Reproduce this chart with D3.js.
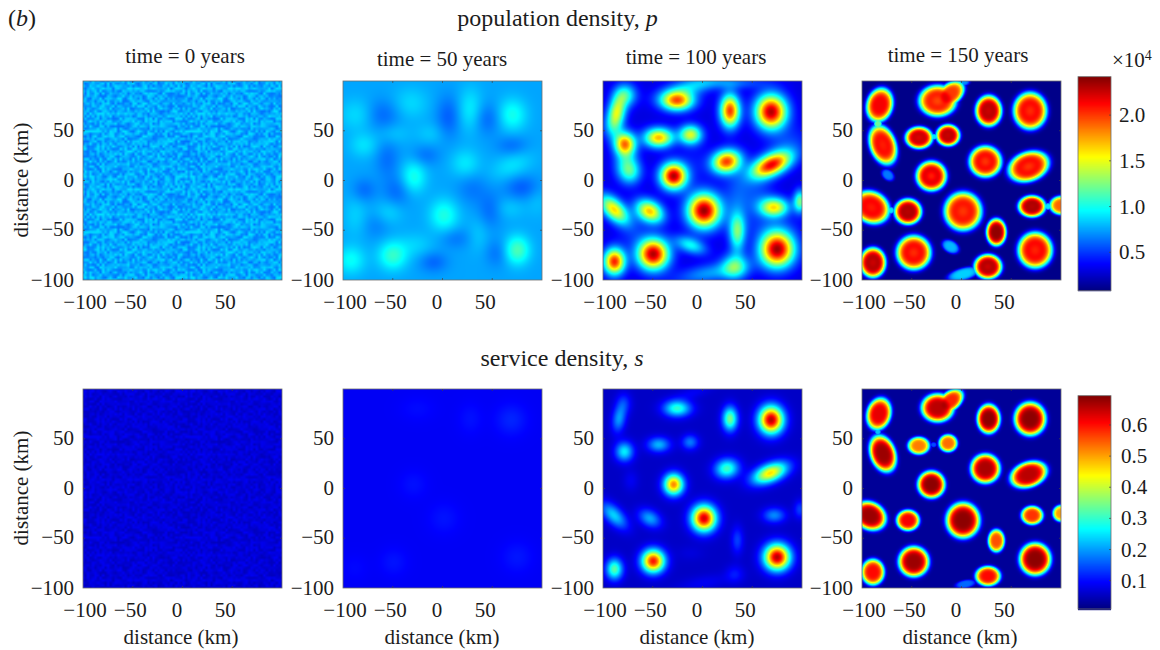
<!DOCTYPE html>
<html><head><meta charset="utf-8">
<style>html,body{margin:0;padding:0;background:#fff}svg{display:block}text{font-family:"Liberation Serif",serif;fill:#1c1c1c}</style>
<script src="https://cdnjs.cloudflare.com/ajax/libs/d3/7.8.5/d3.min.js"></script>
</head><body><svg id="c" width="1160" height="650"></svg>
<script>
const timeLabels = ["time = 0 years","time = 50 years","time = 100 years","time = 150 years"];
const timeLabelX = [185,442,696,958];
const xLabelX = [181,442,697,960];
const axisTicks = [-100,-50,0,50];
const popBarTicks = [0.5,1.0,1.5,2.0];
const svcBarTicks = [0.1,0.2,0.3,0.4,0.5,0.6];
const jetStops = ["#000080","#0000ff","#00ffff","#ffff00","#ff0000","#800000"];
const jetPos = [0,0.125,0.375,0.625,0.875,1];
const popDomain = [800,24200];
const svcDomain = [0.009,0.694];
// all blobs: [x km, y km, x radius, y radius, rotation deg, amplitude, centre dip]
const popT50 = [[-85.6,66,10,9,0,.13],[-32,77.5,10,9,0,.12],[28,71,7,12,0,.18],[70,66,8,9,0,.25],[-79,35.5,8,7,0,.14],[-49,47,9,6,0,.08],[-12,47,8,6,0,.08],[23,17,8,8,0,.16],[-29,3.5,7,9,0,.26],[70,15,12,7,25,.14],[1.5,-35,8,9,0,.27],[-54,-32,8,7,0,.11],[-87,-35,7,12,0,.1],[75,-70,7,8,0,.38],[-50,-75.5,8,8,0,.32],[-92,-80,8,8,0,.22],[-27,-65,10,7,0,.1],[36,-55,6,10,0,.08],[67,-28,9,6,0,.08],[95,-20,6,9,0,.06],[-60.5,66,10,9,0,-.14],[6,64,7,12,0,-.16],[45,62,8,9,0,-.14],[70,35,9,6,0,-.12],[-55.5,22,7,11,0,-.12],[-17,25,8,6,0,-.11],[-79,-10,7,7,0,-.13],[-45.5,-11,8,9,0,-.13],[30,-8,9,9,0,-.1],[80,-7,10,7,0,-.16],[48,-30,7,10,0,-.13],[13,-58,9,6,0,-.1],[55,-73,7,8,0,-.11],[-9,-82,8,6,0,-.14],[-67,-45,8,8,0,-.08]];
const popT100 = [[-25.4,80,10,6,0,1.55],[-86,69,5.5,10,-10,1.1],[-77.5,86,7,7,0,.7],[27.7,70,6,10,0,1.7],[69,69,9.5,10.5,0,2.0],[-44,43,9,6,0,1.4],[-12,46,7,6,0,1.15],[-78,37,6.5,7,0,1.45],[-72.5,9,7,8,0,.7],[-29,4.5,8,8,0,2.0],[24,19,9,7,15,1.65],[69,15.5,13,6.5,25,1.8],[-89,-29,11,6,-45,1.3],[-53,-31,9,6.5,-30,1.35],[1.5,-30.3,10,10.5,0,2.05],[72,-27,9,6,0,1.25],[98,-21,4,7,0,.9],[35,-52,5,12,0,.85],[-12,-65,10,5,-20,.65],[-49.5,-74,9.5,9.5,0,2.0],[75,-69,10.5,11,0,2.05],[-88.5,-81.5,6.5,8,0,1.75],[32.5,-86.5,8,8,0,.75],[-12,94,18,6,15,.5],[30,98,20,4,0,.3],[-90,53,6,8,0,.4],[8,-93,22,6,10,.42],[35,-18,9,20,0,.25],[-78,20,7,10,-10,.42],[-70,-50,10,14,0,.14],[56,-15,10,14,0,.2],[85,35,14,10,35,.22],[-8,18,10,14,0,.1],[65,-45,22,8,0,.1]];
const popT150 = [[-82.2,75.9,12.5,16.5,-15,2.05,0],[-79,35.7,12.5,19.5,20,2.05,.04],[-24,80,18,15,0,2.03,.08],[-11,87,15,10,40,1.9,0],[27.3,70,12.5,14.8,0,2.22,.03],[69,70,16,17.8,0,2.08,.07],[-42.7,43,13,10.5,0,2.18,.03],[-13.5,45.4,11.3,10.3,0,2.2,.02],[24,19,15.5,15,0,2.08,.08],[67.5,14,20,14,20,2.08,.08],[-30.3,4.5,14.5,14.3,0,2.16,.09],[-74,5.5,7,5,-40,.55,0],[-90.6,-27,18,15,-30,2.08,.05],[-53.8,-31.3,13,12.3,0,2.24,.02],[1.5,-31,18,18.5,0,2.05,.07],[70.8,-26,13,10.3,0,2.24,.02],[100,-25,11,9,0,1.8,0],[35,-52,9.5,13,0,2.28,0],[-48,-72.5,16.5,16.5,0,2.08,.07],[-11,-66.5,9,6,-30,.7,0],[74,-70,16.5,17.3,0,2.08,.06],[-89,-82.5,12.3,14.3,0,2.24,.04],[26.6,-86.6,13.2,11.8,0,2.24,.04],[2,-94,16,6,15,.75,0],[1,99,7,4,0,.6,0],[-84,57,4,4,0,1.1,0],[-28,44,4.5,3,0,.8,0],[-71,-30,3.5,3.5,0,.8,0],[87,-26,3.5,3.5,0,.8,0]];
const svcT50 = [[-25,80,10,7,0,.012],[69,69,9,9,0,.03],[28,70,7,9,0,.016],[-29,4,8,8,0,.016],[1.5,-30,9,9,0,.018],[-49,-74,8,8,0,.018],[75,-69,9,9,0,.02],[-88,-80,8,8,0,.01]];
const svcT100 = [[-25.4,80.5,9,5.5,0,.24],[-84,70,4.5,9,-8,.14],[-79,85.5,5,7,0,.07],[27.7,70,5,8,0,.29],[69,69,8,9,0,.6],[-44,44,7.5,5,0,.16],[-12.5,46.5,5.5,5,0,.12],[-78.5,37,6,6.5,0,.2],[-29,4,6.5,7,0,.46],[24.5,20,8,6.5,10,.25],[68,15.5,12,6,22,.4],[-72,8,5,7,0,.03],[-89,-27,11,5.5,-45,.18],[-53,-30,8,5.5,-30,.15],[1.5,-30,8,8.5,0,.58],[72,-27,7.5,5,0,.13],[98,-21,4,6,0,.08],[35,-52,4,9,0,.08],[-12,-65,9,5,0,.015],[-49.5,-73,7.5,7.5,0,.54],[75,-69,8.5,8.5,0,.6],[-88.5,-81,5.5,7,0,.27],[32.5,-86,6,6,0,.05],[1,-95,18,5,10,.03],[-10,96,12,4,15,.03]];
const svcT150 = [[-83,75,11.5,15.5,-15,.6,0],[-79,35,12,18,20,.65,0],[-24,81,15.5,13.5,0,.63,0],[-11,88,14,9,40,.56,0],[27.3,70,11,14,0,.66,0],[69,70,15,16,0,.66,0],[-43,43,10.5,8.5,0,.5,0],[-13.5,45.5,9,8.5,0,.51,0],[24,20,14,14,0,.64,0],[67.5,14,18,12,20,.63,0],[-30.3,4,13,13,0,.66,0],[-92,-27.5,16,13,-30,.65,0],[-53.8,-32,11,10,0,.59,0],[1.5,-32,16,17,0,.66,0],[71,-27,10.5,9,0,.55,0],[100,-25,8,8,0,.48,0],[35,-52.5,8,11,0,.53,0],[-48,-73.5,14.5,14.5,0,.65,0],[74,-71,15,15.5,0,.66,0],[-89,-84,11,12.5,0,.58,0],[26.6,-88,12,9.5,0,.58,0],[4,-96,10,4,10,.14,0],[-84,57,3,3,0,.2,0],[-28,44,3,2.5,0,.12,0]];
// speckle table for the t = 0 panels (one digit per cell, tiled over the panel)
const noiseRows = [
"1415926535897932384626433832795028841971",
"6939937510582097494459230781640628620899",
"8628034825342117067982148086513282306647",
"0938446095505822317253594081284811174502",
"8410270193852110555964462294895493038196",
"4428810975665933446128475648233786783165",
"2712019091456485669234603486104543266482",
"1339360726024914127372458700660631558817",
"4881520920962829254091715364367892590360",
"0113305305488204665213841469519415116094",
"3305727036575959195309218611738193261179",
"3105118548074462379962749567351885752724",
"8912279381830119491298336733624406566430",
"8602139494639522473719070217986094370277",
"0539217176293176752384674818467669405132",
"0005681271452635608277857713427577896091",
"7363717872146844090122495343014654958537",
"1050792279689258923542019956112129021960",
"8640344181598136297747713099605187072113",
"4999999837297804995105973173281609631859",
"5024459455346908302642522308253344685035",
"2619311881710100031378387528865875332083",
"8142061717766914730359825349042875546873",
"1159562863882353787593751957781857780532",
"1712268066130019278766111959092164201989",
"7182818284590452353602874713526624977572",
"4709369995957496696762772407663035354759",
"4571382178525166427427466391932003059921",
"8174135966290435729003342952605956307381",
"3232862794349076323382988075319525101901",
"1573834187930702154089149934884167509244",
"7614606680822648001684774118537423454424",
"3710753907774499206955170276183860626133",
"1384583000752044933826560297606737113200",
"7093287091274437470472306969772093101416",
"9283681902551510865746377211125238978442",
"5056953696770785449969967946864454905987",
"9318559630815977452604127916043175286091",
"6025743681907324518692037451680239471865",
"3871946205183674928105637249180536742918"];

const svg=d3.select("#c");
const jetScale=d3.scaleLinear().domain(jetPos).range(jetStops).interpolate(d3.interpolateRgb).clamp(true);
const popColor=d3.scaleLinear().domain(popDomain).range([0,1]);
const svcColor=d3.scaleLinear().domain(svcDomain).range([0,1]);

function blobField(blobs,base,a,p,grow,norm){
  const parsed=blobs.map(b=>{const t=(b[4]||0)*Math.PI/180;return {x:b[0],y:b[1],rx:b[2]*grow,ry:b[3]*grow,c:Math.cos(t),s:Math.sin(t),amp:b[5],dip:b[6]||0};});
  return (x,y)=>{
    let v=0;
    for(const b of parsed){
      const dx=x-b.x,dy=y-b.y;
      const u=(dx*b.c+dy*b.s)/b.rx, w=(-dx*b.s+dy*b.c)/b.ry;
      const r2=u*u+w*w;
      if(r2>30) continue;
      const h=b.amp*(1-b.dip*Math.exp(-r2/0.16))*Math.exp(-a*Math.pow(r2,p));
      v+=norm?Math.pow(Math.abs(h),norm):h;
    }
    return base+(norm?Math.pow(v,1/norm):v);
  };
}
function noiseField(base,amp,flip){
  const n=noiseRows.length;
  const cell=(i,j)=>{
    const row=noiseRows[(flip?n-1-(i%n):i%n)];
    return (+row[j%n]-4.5)/4.5;
  };
  const g=d3.scaleLinear().domain([-100,100]).range([0,2*n-1]);
  return (x,y)=>{
    const fx=g(x),fy=g(y),i=Math.floor(fy),j=Math.floor(fx),tx=fx-j,ty=fy-i;
    const v=(1-ty)*((1-tx)*cell(i,j)+tx*cell(i,j+1))+ty*((1-tx)*cell(i+1,j)+tx*cell(i+1,j+1));
    return base+amp*v;
  };
}
const topFields=[noiseField(.76,.12,false),blobField(popT50,.75,.5,1,1.25),blobField(popT100,.3,.5,1,1.12),blobField(popT150,.1,.8,2.5,1,8)];
const botFields=[noiseField(.068,.018,true),blobField(svcT50,.088,.5,1,1.2),blobField(svcT100,.056,.5,1,1.05),blobField(svcT150,.025,.8,2.5,1,8)];

const lefts=[83,343,603,862];
const size=199;
const rows=[{top:81,fields:topFields,unit:1e4,color:popColor,titles:timeLabels,titleY:[57,60,58,56],xl:false},
            {top:389,fields:botFields,unit:1,color:svcColor,titles:null,xl:true}];
const tickOff=[2,-2.5,-5.5,-7];
const fmt=d=>(d<0?"\u2212":"")+Math.abs(d);
const FS=21;

rows.forEach(row=>{
  lefts.forEach((left,pi)=>{
    const x=d3.scaleLinear().domain([-100,100]).range([left,left+size]);
    const y=d3.scaleLinear().domain([-100,100]).range([row.top+size,row.top]);
    const cv=document.createElement("canvas");cv.width=size;cv.height=size;
    const ctx=cv.getContext("2d"),img=ctx.createImageData(size,size),f=row.fields[pi];
    for(let r=0;r<size;r++)for(let c=0;c<size;c++){
      const dx=x.invert(left+c+.5),dy=y.invert(row.top+r+.5);
      const col=d3.rgb(jetScale(row.color(f(dx,dy)*row.unit)));
      const k=(r*size+c)*4;
      img.data[k]=col.r;img.data[k+1]=col.g;img.data[k+2]=col.b;img.data[k+3]=255;
    }
    ctx.putImageData(img,0,0);
    const g=svg.append("g");
    g.append("image").attr("x",left).attr("y",row.top).attr("width",size).attr("height",size).attr("href",cv.toDataURL());
    g.append("rect").attr("x",left).attr("y",row.top).attr("width",size).attr("height",size).attr("fill","none").attr("stroke","#6f6f6f").attr("stroke-width",.8);
    axisTicks.slice(1).forEach(t=>{
      [[x(t),row.top+size,x(t),row.top+size-2],[x(t),row.top,x(t),row.top+2]].forEach(s=>
        g.append("line").attr("x1",s[0]).attr("y1",s[1]).attr("x2",s[2]).attr("y2",s[3]).attr("stroke","#444").attr("stroke-width",.7));
      [[left,y(t),left+2,y(t)],[left+size,y(t),left+size-2,y(t)]].forEach(s=>
        g.append("line").attr("x1",s[0]).attr("y1",s[1]).attr("x2",s[2]).attr("y2",s[3]).attr("stroke","#444").attr("stroke-width",.7));
    });
    axisTicks.forEach((t,i)=>{
      g.append("text").attr("x",x(t)+tickOff[i]).attr("y",row.top+size+29).attr("text-anchor","middle").attr("font-size",FS).text(fmt(t));
      g.append("text").attr("x",left-9).attr("y",y(t)+(t===-100?7:6)).attr("text-anchor","end").attr("font-size",FS).text(fmt(t));
    });
    if(row.titles) g.append("text").attr("x",timeLabelX[pi]).attr("y",row.titleY[pi]+6).attr("text-anchor","middle").attr("font-size",FS).text(row.titles[pi]);
    if(row.xl) g.append("text").attr("x",xLabelX[pi]).attr("y",644).attr("text-anchor","middle").attr("font-size",FS).text("distance (km)");
    if(pi===0) g.append("text").attr("transform",`translate(28,${row.top+99}) rotate(-90)`).attr("text-anchor","middle").attr("font-size",FS).text("distance (km)");
  });
});

function colorbar(top,bottom,domain,ticks,labelX,fmtT){
  const s=d3.scaleLinear().domain(domain).range([bottom,top]);
  const g=svg.append("g");
  const steps=d3.range(0,bottom-top);
  g.selectAll("rect.b").data(steps).join("rect").attr("class","b").attr("x",1078).attr("width",33)
    .attr("y",d=>top+d).attr("height",1.5)
    .attr("fill",d=>jetScale(1-(d+.5)/(bottom-top)));
  g.append("rect").attr("x",1078).attr("y",top).attr("width",33).attr("height",bottom-top).attr("fill","none").attr("stroke","#6f6f6f").attr("stroke-width",.8);
  ticks.forEach(t=>{
    g.append("line").attr("x1",1111).attr("x2",1109).attr("y1",s(t)).attr("y2",s(t)).attr("stroke","#444").attr("stroke-width",.7);
    g.append("text").attr("x",labelX).attr("y",s(t)+7).attr("font-size",FS).text(fmtT(t));
  });
}
colorbar(76.7,290.7,[popDomain[0]/1e4,popDomain[1]/1e4],popBarTicks,1119,d=>d.toFixed(1));
colorbar(395.7,609,svcDomain,svcBarTicks,1121,d=>d.toFixed(1));
const e=svg.append("text").attr("x",1112).attr("y",67).attr("font-size",FS);
e.append("tspan").text("\u00d710");
e.append("tspan").attr("dy",-7).attr("font-size",14).text("4");

const t1=svg.append("text").attr("x",557.5).attr("y",26).attr("text-anchor","middle").attr("font-size",24);
t1.append("tspan").text("population density, ");t1.append("tspan").attr("font-style","italic").text("p");
const t2=svg.append("text").attr("x",562).attr("y",366).attr("text-anchor","middle").attr("font-size",24);
t2.append("tspan").text("service density, ");t2.append("tspan").attr("font-style","italic").text("s");
const b=svg.append("text").attr("x",8).attr("y",26).attr("font-size",24);
b.append("tspan").text("(");b.append("tspan").attr("font-style","italic").text("b");b.append("tspan").text(")");
</script></body></html>
